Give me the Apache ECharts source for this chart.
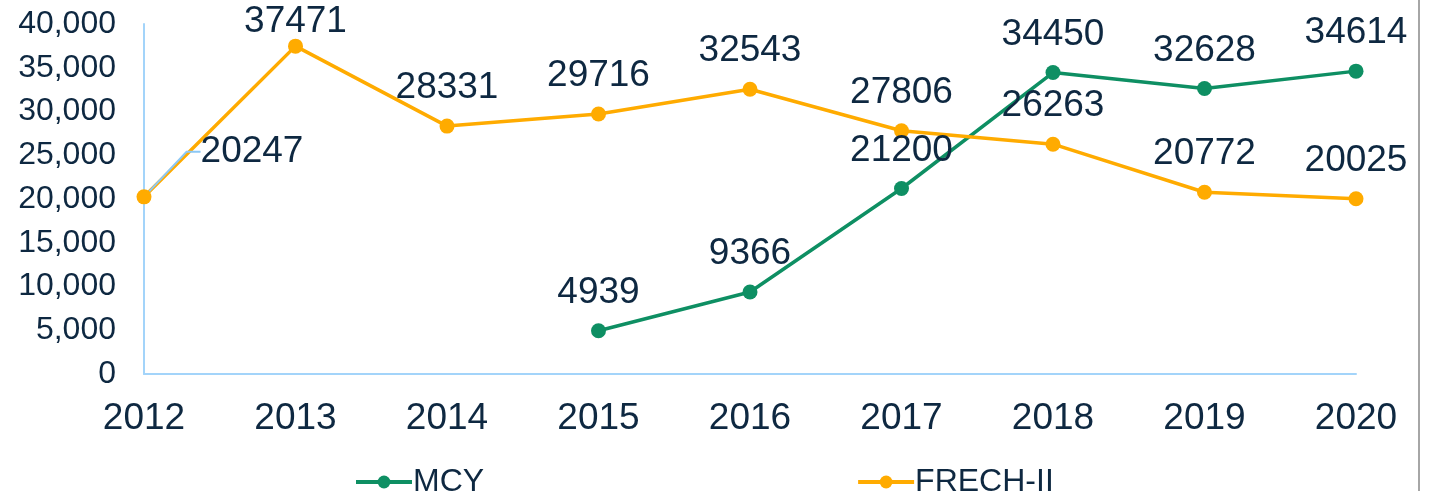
<!DOCTYPE html>
<html>
<head>
<meta charset="utf-8">
<script src="https://cdn.jsdelivr.net/npm/echarts@6/dist/echarts.min.js"></script>
<style>
html,body{margin:0;padding:0;background:#fff;}
#chart{width:1435px;height:491px;}
</style>
</head>
<body>
<div id="chart"></div>
<script>
const categories = ['2012','2013','2014','2015','2016','2017','2018','2019','2020'];
const mcyValues = [null, null, null, 4939, 9366, 21200, 34450, 32628, 34614];
const frechValues = [20247, 37471, 28331, 29716, 32543, 27806, 26263, 20772, 20025];
const seriesNames = ['MCY', 'FRECH-II'];

const textColor = '#0E2841';
const axisColor = '#A3D4FA';
const green = '#0E8F63';
const orange = '#FFAB00';
const font = 'Arial, "Liberation Sans", sans-serif';

const chart = echarts.init(document.getElementById('chart'), null, {renderer: 'canvas'});

const frechData = frechValues.map((v, i) => i === 0
  ? {value: v, labelLine: {show: true, length2: 14, lineStyle: {color: '#8CC8F5', width: 2}}}
  : v);

const labelCfg = {show: true, position: 'top', distance: 12, color: textColor, fontSize: 37, fontFamily: font};

chart.setOption({
  animation: false,
  backgroundColor: '#fff',
  grid: {left: 144, right: 79, top: 24, bottom: 117, containLabel: false},
  legend: {
    data: seriesNames,
    left: 349,
    top: 461,
    itemGap: 372,
    itemWidth: 56,
    itemHeight: 16,
    lineStyle: {width: 4},
    textStyle: {color: textColor, fontSize: 32, fontFamily: font, padding: [0, 0, 0, -4]}
  },
  xAxis: {
    type: 'category',
    data: categories,
    boundaryGap: false,
    axisTick: {show: false},
    axisLine: {show: true, lineStyle: {color: axisColor, width: 2}},
    axisLabel: {color: textColor, fontSize: 37, fontFamily: font, margin: 26},
    splitLine: {show: false}
  },
  yAxis: {
    type: 'value',
    min: 0, max: 40000, interval: 5000,
    axisLine: {show: true, lineStyle: {color: axisColor, width: 2}},
    axisTick: {show: false},
    splitLine: {show: false},
    axisLabel: {
      color: textColor, fontSize: 32, fontFamily: font, margin: 28,
      formatter: v => v.toLocaleString('en-US')
    }
  },
  series: [
    {
      name: seriesNames[0],
      type: 'line',
      data: mcyValues,
      color: green,
      symbol: 'circle',
      symbolSize: 15,
      lineStyle: {width: 3.5, color: green},
      itemStyle: {color: green},
      label: labelCfg
    },
    {
      name: seriesNames[1],
      type: 'line',
      data: frechData,
      color: orange,
      symbol: 'circle',
      symbolSize: 15,
      lineStyle: {width: 3.5, color: orange},
      itemStyle: {color: orange},
      label: labelCfg,
      labelLayout: function (p) {
        if (p.dataIndex === 0) return {dx: 108, dy: -7};
        if (p.dataIndex === 1) return {dy: 14};
        return {};
      }
    }
  ],
  graphic: [{
    type: 'line',
    shape: {x1: 1419, y1: 0, x2: 1419, y2: 491},
    style: {stroke: '#A6A6A6', lineWidth: 2}
  }]
});
</script>
</body>
</html>
